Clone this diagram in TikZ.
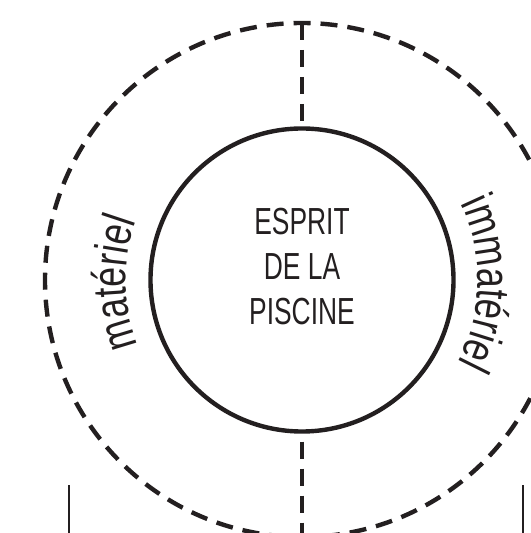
\documentclass[tikz,border=0pt]{standalone}
\usepackage{fontspec}
\usetikzlibrary{decorations.text}
\newfontfamily\espritfont[FakeStretch=0.70]{Liberation Sans}
\newfontfamily\cerclefont[FakeStretch=0.76]{Liberation Sans}
\definecolor{encre}{HTML}{231F20}

\begin{document}
\begin{tikzpicture}%
        [x=1bp, y=1bp,
        cercle/.style={circle, draw=encre, line width=4.4bp, inner sep=0pt, outer sep=0pt, minimum size=303bp},
        monde/.style={circle, draw=encre, line width=4.4bp, dash pattern=on 17bp off 10bp, dash phase=9.8bp, inner sep=0pt, outer sep=0pt, minimum size=514bp},
        axe/.style={draw=encre, line width=4.4bp, dash pattern=on 17bp off 10bp},
        titre/.style={text=encre, align=center, inner sep=0pt, font=\espritfont\fontsize{37.7bp}{45bp}\selectfont},
        bord/.style={draw=encre, line width=2bp}]
%%
\useasboundingbox (-302,-253) rectangle (229,280);
%%
%% the two circles
%%
\node[monde] (monde) at (0,0) {};
\node[cercle] (esprit) at (0,0) {};
\node[titre] (nom) at ([yshift=13.5bp]esprit.center) {ESPRIT\\DE LA\\PISCINE};
%%
%% the two axes
%%
\draw[axe] (monde.north) -- (esprit.north);
\draw[axe, dash phase=17bp] (esprit.south) -- (monde.south);
%%
%% the words round the circle
%%
\path[decorate, decoration={text along path, text align=center,
        text={|\cerclefont\fontsize{47bp}{47bp}\selectfont\color{encre}|matériel}}]
        (esprit.center) ++(215:176) arc[start angle=215, end angle=147, radius=176bp];
\path[decorate, decoration={text along path, text align=center,
        text={|\cerclefont\fontsize{47bp}{47bp}\selectfont\color{encre}|immatériel}}]
        (esprit.center) ++(35:176) arc[start angle=35, end angle=-37, radius=176bp];
%%
%% the edges below
%%
\draw[bord] (-232.5,-205) -- (-232.5,-253);
\draw[bord] (221,-205) -- (221,-253);

\end{tikzpicture}
\end{document}
